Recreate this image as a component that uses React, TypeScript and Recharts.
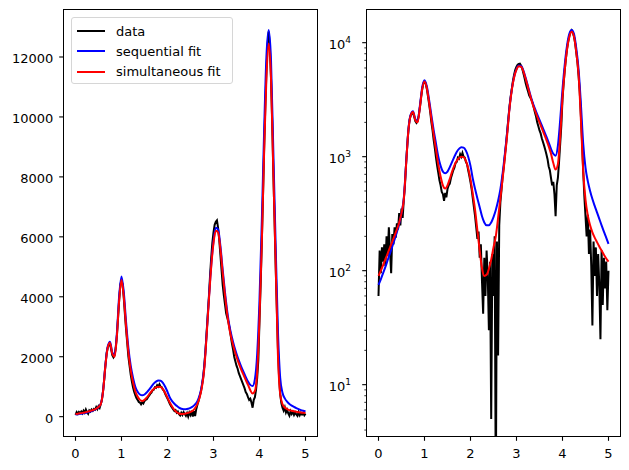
import { LineChart, Line, XAxis, YAxis } from 'recharts';

// measured data, sampled every 0.025 from 0 to 5
const DATA_STEP = 0.025;
const dataValues = [
  60, 150, 95, 160, 120, 170, 110, 200, 135, 240,
  150, 95, 210, 170, 240, 195, 260, 230, 320, 250,
  350, 290, 420, 560, 880, 1250, 1700, 2100, 2300, 2400,
  2420, 2250, 2050, 1980, 2050, 2300, 2700, 3300, 3900, 4400,
  4550, 4400, 3950, 3400, 2900, 2450, 2000, 1700, 1400, 1180,
  980, 830, 720, 620, 560, 490, 470, 410, 480, 440,
  520, 560, 580, 650, 700, 760, 800, 880, 900, 980,
  960, 1050, 1000, 1080, 1000, 980, 900, 860, 760, 680,
  600, 520, 430, 360, 300, 240, 190, 220, 130, 170,
  80, 42, 130, 60, 150, 90, 30, 120, 5, 140,
  60, 200, 1, 180, 18, 250, 400, 520, 680, 820,
  1050, 1300, 1700, 2200, 2800, 3400, 4000, 4700, 5300, 5800,
  6150, 6400, 6500, 6550, 6300, 5900, 5400, 4900, 4400, 4050,
  3750, 3450, 3300, 3150, 2950, 2700, 2450, 2250, 2000, 1850,
  1700, 1600, 1450, 1350, 1250, 1150, 1050, 950, 820, 760,
  650, 560, 600, 470, 300, 560, 650, 900, 1300, 1900,
  3200, 4400, 5800, 7300, 8900, 10300, 11500, 12400, 12850, 12300,
  11300, 9900, 8200, 6700, 5100, 3700, 2300, 1350, 750, 450,
  300, 200, 310, 140, 230, 110, 33, 180, 90, 160,
  60, 140, 75, 25, 150, 50, 130, 70, 120, 45,
  100,
];

// fits, sampled every 0.05 from 0 to 5
const FIT_STEP = 0.05;
const sequentialFit = [
  75, 84, 95, 108, 124, 142, 163, 188, 218, 258,
  320, 430, 870, 1730, 2340, 2500, 2140, 2060, 2800, 4050,
  4680, 4150, 3150, 2300, 1700, 1300, 1000, 830, 740, 715,
  740, 810, 900, 1000, 1100, 1170, 1210, 1200, 1130, 1000,
  830, 640, 520, 430, 360, 300, 265, 250, 250, 265,
  295, 340, 410, 520, 720, 1080, 1680, 2750, 3950, 5050,
  5850, 6300, 6250, 5700, 4900, 4150, 3500, 3000, 2650, 2350,
  2100, 1880, 1680, 1500, 1330, 1170, 1060, 1020, 1250, 2100,
  3900, 6500, 9500, 12000, 12900, 11900, 8900, 5800, 2900, 1300,
  800, 610, 500, 425, 370, 325, 285, 250, 220, 195,
  172,
];
const simultaneousFit = [
  90, 100, 112, 126, 142, 160, 180, 203, 230, 265,
  320, 420, 850, 1700, 2300, 2470, 2100, 2000, 2700, 3900,
  4560, 4000, 3000, 2150, 1550, 1150, 850, 670, 560, 525,
  560, 640, 740, 840, 920, 975, 1000, 990, 920, 790,
  630, 470, 340, 225, 150, 105, 90, 92, 104, 125,
  160, 200, 290, 430, 650, 1000, 1600, 2700, 3900, 5000,
  5800, 6200, 6150, 5600, 4800, 4050, 3400, 2900, 2550, 2250,
  2000, 1780, 1580, 1400, 1230, 1060, 880, 770, 860, 1500,
  3300, 5800, 8800, 11300, 12450, 11300, 8200, 5200, 2100, 750,
  420, 305, 250, 217, 195, 178, 163, 150, 138, 128,
  120,
];

const seriesNames = ['data', 'sequential fit', 'simultaneous fit'];
const seriesColors = ['#000000', '#0000ff', '#ff0000'];

const xTicks = [0, 1, 2, 3, 4, 5];
const linearTicks = [0, 2000, 4000, 6000, 8000, 10000, 12000];
const logMajor = [10, 100, 1000, 10000];
const logMinor = [
  4, 5, 6, 7, 8, 9,
  20, 30, 40, 50, 60, 70, 80, 90,
  200, 300, 400, 500, 600, 700, 800, 900,
  2000, 3000, 4000, 5000, 6000, 7000, 8000, 9000,
];

const toPoints = (vals: number[], step: number) =>
  vals.map((y, i) => ({ x: +(i * step).toFixed(3), y }));

const dataPts = toPoints(dataValues, DATA_STEP);
const seqPts = toPoints(sequentialFit, FIT_STEP);
const simPts = toPoints(simultaneousFit, FIT_STEP);

const FONT = '"DejaVu Sans", sans-serif';
const FS = 13;

const XTick = ({ x, y, payload }: any) => (
  <g>
    <line x1={x} x2={x} y1={y} y2={y + 4.8} stroke="#000" strokeWidth={1.1} />
    <text x={x} y={y + 22} textAnchor="middle" fontSize={FS} fontFamily={FONT} fill="#000">
      {payload.value}
    </text>
  </g>
);

const LinTick = ({ x, y, payload }: any) => (
  <g>
    <line x1={x - 4.8} x2={x} y1={y} y2={y} stroke="#000" strokeWidth={1.1} />
    <text x={x - 10.7} y={y + 6} textAnchor="end" fontSize={FS} fontFamily={FONT} fill="#000">
      {payload.value}
    </text>
  </g>
);

const LogTick = ({ x, y, payload }: any) => {
  const v = payload.value;
  const major = logMajor.includes(v);
  if (!major) {
    return <line x1={x - 2.7} x2={x} y1={y} y2={y} stroke="#000" strokeWidth={0.8} />;
  }
  return (
    <g>
      <line x1={x - 4.8} x2={x} y1={y} y2={y} stroke="#000" strokeWidth={1.1} />
      <text x={x - 16} y={y + 6.3} textAnchor="end" fontSize={FS} fontFamily={FONT} fill="#000">
        10
        <tspan dy={-6} fontSize={9}>
          {Math.round(Math.log10(v))}
        </tspan>
      </text>
    </g>
  );
};

const Frame = ({ left, top, width, height }: any) => (
  <div
    style={{
      position: 'absolute',
      left,
      top,
      width,
      height,
      boxSizing: 'border-box',
      border: '1px solid #000',
      pointerEvents: 'none',
    }}
  />
);

const Legend = () => (
  <div
    style={{
      position: 'absolute',
      left: 71,
      top: 17,
      width: 162,
      height: 67,
      boxSizing: 'border-box',
      border: '1px solid #d6d6d6',
      borderRadius: 3,
      background: 'rgba(255,255,255,0.8)',
      fontFamily: FONT,
      fontSize: FS,
    }}
  >
    {seriesNames.map((name, i) => (
      <div
        key={name}
        style={{ position: 'absolute', left: 5, top: 5 + i * 20.3, height: 16, display: 'flex', alignItems: 'center' }}
      >
        <div style={{ width: 28, height: 2, background: seriesColors[i] }} />
        <span style={{ marginLeft: 11, whiteSpace: 'nowrap', color: '#000' }}>{name}</span>
      </div>
    ))}
  </div>
);

const series = (yAxis: string) => [
  <Line key="d" yAxisId={yAxis} data={dataPts} dataKey="y" type="linear" stroke={seriesColors[0]} strokeWidth={2} dot={false} isAnimationActive={false} />,
  <Line key="s" yAxisId={yAxis} data={seqPts} dataKey="y" type="monotone" stroke={seriesColors[1]} strokeWidth={2} dot={false} isAnimationActive={false} />,
  <Line key="m" yAxisId={yAxis} data={simPts} dataKey="y" type="monotone" stroke={seriesColors[2]} strokeWidth={2} dot={false} isAnimationActive={false} />,
];

export default function App() {
  return (
    <div style={{ position: 'absolute', left: 0, top: 0, width: 629, height: 470, background: '#fff' }}>
      <div style={{ position: 'absolute', left: 0, top: 0 }}>
        <LineChart width={330} height={470} margin={{ top: 10, right: 13, bottom: 0, left: 0 }}>
          <XAxis
            type="number"
            dataKey="x"
            domain={[-0.25, 5.25]}
            ticks={xTicks}
            interval={0}
            allowDataOverflow
            height={34}
            axisLine={false}
            tickLine={false}
            tickSize={0}
            tickMargin={0}
            tick={XTick}
          />
          <YAxis
            yAxisId="lin"
            type="number"
            domain={[-645, 13568]}
            ticks={linearTicks}
            interval={0}
            allowDataOverflow
            width={64}
            axisLine={false}
            tickLine={false}
            tickSize={0}
            tickMargin={0}
            tick={LinTick}
          />
          {series('lin')}
        </LineChart>
      </div>
      <div style={{ position: 'absolute', left: 320, top: 0 }}>
        <LineChart width={309} height={470} margin={{ top: 10, right: 9, bottom: 0, left: 0 }}>
          <XAxis
            type="number"
            dataKey="x"
            domain={[-0.25, 5.25]}
            ticks={xTicks}
            interval={0}
            allowDataOverflow
            height={34}
            axisLine={false}
            tickLine={false}
            tickSize={0}
            tickMargin={0}
            tick={XTick}
          />
          <YAxis
            yAxisId="log"
            type="number"
            scale="log"
            domain={[3.546, 19350]}
            ticks={[...logMinor, ...logMajor].sort((a, b) => a - b)}
            interval={0}
            allowDataOverflow
            width={47}
            axisLine={false}
            tickLine={false}
            tickSize={0}
            tickMargin={0}
            tick={LogTick}
          />
          {series('log')}
        </LineChart>
      </div>
      <Frame left={63} top={9} width={255} height={428} />
      <Frame left={366} top={9} width={255} height={428} />
      <Legend />
    </div>
  );
}
